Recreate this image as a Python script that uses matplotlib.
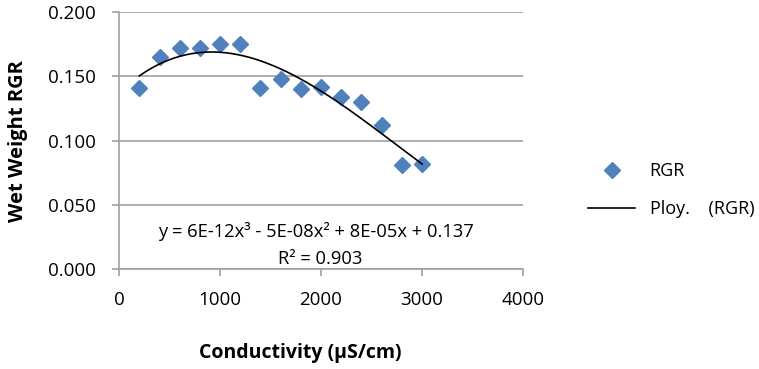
import numpy as np
import matplotlib.pyplot as plt
from matplotlib.ticker import FormatStrFormatter

conductivity = [200, 400, 600, 800, 1000, 1200, 1400, 1600, 1800, 2000, 2200, 2400, 2600, 2800, 3000]
rgr = [0.141, 0.165, 0.172, 0.172, 0.175, 0.175, 0.141, 0.148, 0.140, 0.142, 0.134, 0.130, 0.112, 0.081, 0.082]
equation = "y = 6E-12x³ - 5E-08x² + 8E-05x + 0.137"
r_squared = "R² = 0.903"

plt.rcParams['font.family'] = ['Open Sans', 'DejaVu Sans']

fig = plt.figure(figsize=(7.59, 3.69), dpi=100)
ax = fig.add_axes([0.157, 0.271, 0.532, 0.696])

# cubic trend line, as in the spreadsheet
coef = np.polyfit(conductivity, rgr, 3)
xs = np.linspace(conductivity[0], conductivity[-1], 200)
ax.plot(conductivity, rgr, 'D', color='#4F81BD', markersize=8, label='RGR', zorder=3)
ax.plot(xs, np.polyval(coef, xs), color='black', lw=1.2, label='Ploy.    (RGR)', zorder=4)

ax.set_xlim(0, 4000)
ax.set_ylim(0, 0.2)
ax.set_xticks([0, 1000, 2000, 3000, 4000])
ax.set_yticks([0, 0.05, 0.1, 0.15, 0.2])
ax.yaxis.set_major_formatter(FormatStrFormatter('%.3f'))
ax.grid(axis='y', color='#A0A0A0', lw=1.2)
ax.set_axisbelow(True)
for s in ['top', 'right']:
    ax.spines[s].set_visible(False)
for s in ['left', 'bottom']:
    ax.spines[s].set_color('#A0A0A0')
    ax.spines[s].set_linewidth(1.2)
ax.tick_params(colors='#A0A0A0', labelcolor='black', labelsize=13.5, length=5, width=1.2)
ax.tick_params(axis='x', pad=11)
ax.tick_params(axis='y', pad=12)

ax.text(1950, 0.0295, equation, ha='center', va='center', fontsize=13.2)
ax.text(1990, 0.0075, r_squared, ha='center', va='center', fontsize=13.2)

fig.text(300 / 759, 1 - 353 / 369, 'Conductivity (μS/cm)', ha='center', va='center',
         fontsize=14, fontweight='bold')
fig.text(18 / 759, 1 - 141 / 369, 'Wet Weight RGR', ha='center', va='center',
         rotation=90, fontsize=14.5, fontweight='bold')

fig.legend(loc='center left', bbox_to_anchor=(572 / 759, 1 - 190 / 369), frameon=False,
           fontsize=13, handlelength=2.6, labelspacing=1.1)

fig.savefig('out.png', dpi=100)
